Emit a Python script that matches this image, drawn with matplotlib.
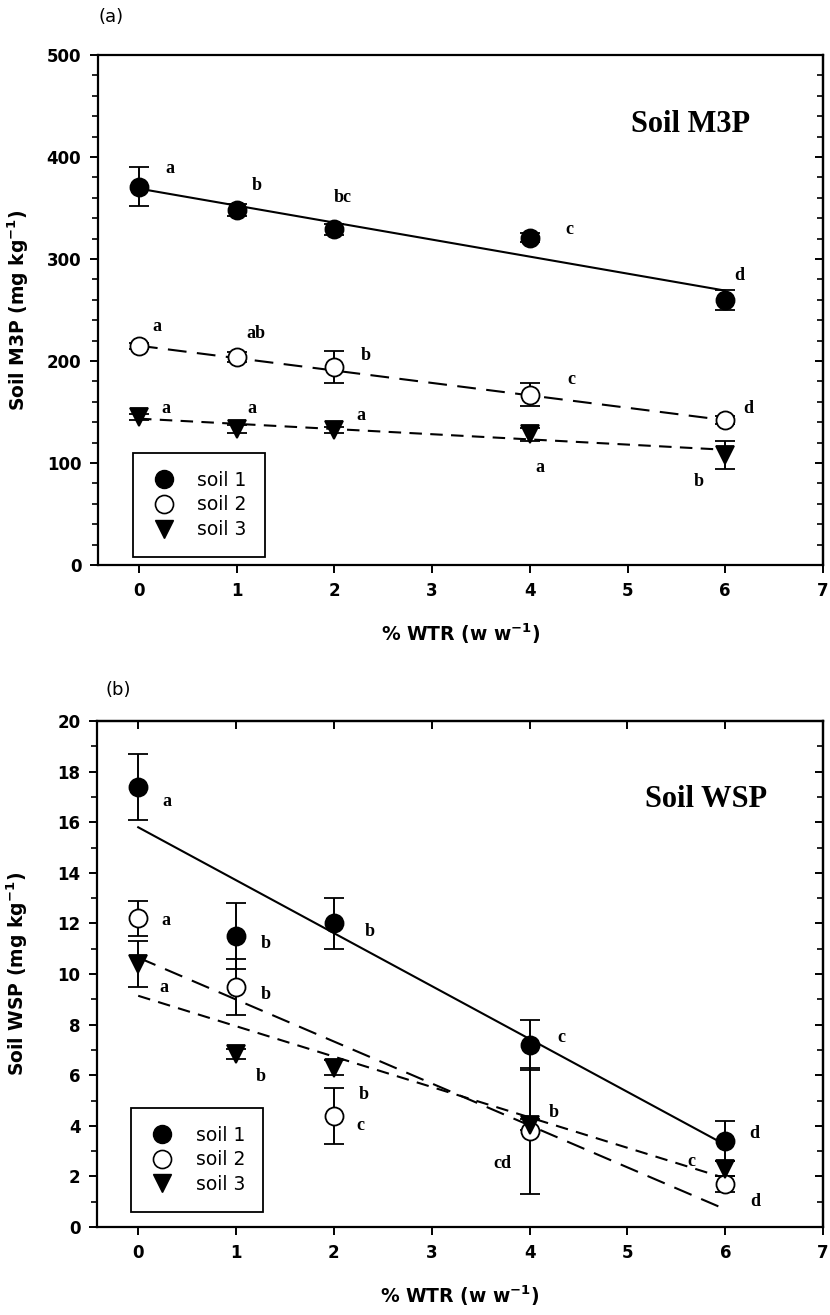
import numpy as np
import matplotlib
matplotlib.use("Agg")
import matplotlib.pyplot as plt
from matplotlib.ticker import MultipleLocator
from matplotlib.lines import Line2D

# Datos
wtr = [0, 1, 2, 4, 6]
fit_x = [0, 6]

# (a) Soil M3P
m3p_s1 = [371, 348, 329, 321, 260]
m3p_s1_err = [19, 6, 5, 4, 10]
m3p_s2 = [215, 204, 194, 167, 142]
m3p_s2_err = [3, 5, 16, 11, 4]
m3p_s3 = [145, 133, 132, 128, 108]
m3p_s3_err = [3, 4, 3, 6, 14]
m3p_fit1 = [369, 269]
m3p_fit2 = [215, 142]
m3p_fit3 = [143.5, 113]
m3p_letters1 = [("a", 0.32, 389), ("b", 1.21, 372), ("bc", 2.09, 360), ("c", 4.40, 329), ("d", 6.14, 284)]
m3p_letters2 = [("a", 0.18, 234), ("ab", 1.2, 227), ("b", 2.32, 205), ("c", 4.43, 182), ("d", 6.24, 153)]
m3p_letters3 = [("a", 0.28, 153), ("a", 1.16, 153), ("a", 2.27, 147), ("a", 4.10, 96), ("b", 5.73, 82)]

# (b) Soil WSP
wsp_s1 = [17.4, 11.5, 12.0, 7.2, 3.4]
wsp_s1_err = [1.3, 1.3, 1.0, 1.0, 0.8]
wsp_s2 = [12.2, 9.5, 4.4, 3.8, 1.7]
wsp_s2_err = [0.7, 1.1, 1.1, 2.5, 0.3]
wsp_s3 = [10.4, 6.85, 6.3, 4.05, 2.3]
wsp_s3_err = [0.9, 0.2, 0.3, 0.2, 0.3]
wsp_fit1 = [15.8, 3.25]
wsp_fit2 = [10.65, 0.7]
wsp_fit3 = [9.14, 1.93]
wsp_letters1 = [("a", 0.29, 16.8), ("b", 1.30, 11.2), ("b", 2.37, 11.7), ("c", 4.32, 7.5), ("d", 6.30, 3.7)]
wsp_letters2 = [("a", 0.28, 12.1), ("b", 1.30, 9.2), ("c", 2.27, 4.0), ("cd", 3.72, 2.5), ("d", 6.31, 1.0)]
wsp_letters3 = [("a", 0.26, 9.45), ("b", 1.25, 5.96), ("b", 2.30, 5.23), ("b", 4.25, 4.53), ("c", 5.65, 2.6)]

serif = "Liberation Serif"
sans = "DejaVu Sans"
plt.rcParams['font.family'] = sans

fig = plt.figure(figsize=(8.3, 13.15), dpi=100)
ax1 = fig.add_axes([0.118, 0.5703, 0.8735, 0.3879])
ax2 = fig.add_axes([0.117, 0.0669, 0.8747, 0.3848])


def panel(ax, series, fits, letters, titulo, tpos, ymax, ymajor, yminor, ylabel, leg_anchor, top_ticks):
    estilos = [dict(marker="o", mfc="black", dashes=None),
               dict(marker="o", mfc="white", dashes=(9, 5)),
               dict(marker="v", mfc="black", dashes=(6, 4))]
    for (y, e), f, st in zip(series, fits, estilos):
        if st["dashes"] is None:
            ax.plot(fit_x, f, color="black", lw=1.5, zorder=2)
        else:
            ax.plot(fit_x, f, color="black", lw=1.5, dashes=st["dashes"], zorder=2)
        ax.errorbar(wtr, y, yerr=e, fmt=st["marker"], mfc=st["mfc"], mec="black",
                    ms=13, mew=1.3, ecolor="black", elinewidth=1.4, capsize=7,
                    capthick=1.4, color="black", zorder=3)
    for grupo in letters:
        for txt, x, y in grupo:
            ax.text(x, y, txt, family=serif, fontweight="bold", fontsize=13,
                    ha="center", va="center")
    ax.text(tpos[0], tpos[1], titulo, family=serif, fontweight="bold", fontsize=22,
            ha="center", va="center")
    ax.set_xlim(-0.42, 7)
    ax.set_ylim(0, ymax)
    ax.set_xticks([0, 1, 2, 3, 4, 5, 6, 7])
    ax.yaxis.set_major_locator(MultipleLocator(ymajor))
    ax.yaxis.set_minor_locator(MultipleLocator(yminor))
    ax.tick_params(axis="both", which="major", labelsize=12, width=1.4, length=6, pad=6)
    ax.tick_params(axis="y", which="minor", width=1.2, length=4)
    for lab in ax.get_xticklabels() + ax.get_yticklabels():
        lab.set_fontweight("bold")
    for s in ax.spines.values():
        s.set_linewidth(1.6)
    ax.set_xlabel("% WTR (w w$^{\\mathbf{-1}}$)", fontsize=13.5, fontweight="bold", labelpad=16)
    ax.set_ylabel(ylabel, fontsize=13.5, fontweight="bold")
    ax.yaxis.set_label_coords(-0.092, 0.5)

    # marcas del lado derecho (y arriba) hacia adentro
    der = ax.secondary_yaxis("right")
    der.yaxis.set_major_locator(MultipleLocator(ymajor))
    der.yaxis.set_minor_locator(MultipleLocator(yminor))
    der.tick_params(which="major", direction="in", length=6, width=1.4, labelright=False)
    der.tick_params(which="minor", direction="in", length=4, width=1.2)
    der.spines["right"].set_linewidth(1.6)
    if top_ticks:
        arr = ax.secondary_xaxis("top")
        arr.set_xticks([0, 1, 2, 3, 4, 5, 6, 7])
        arr.tick_params(direction="in", length=6, width=1.4, labeltop=False)
        arr.spines["top"].set_linewidth(1.6)

    handles = [Line2D([], [], ls="none", marker="o", mfc="black", mec="black", ms=13),
               Line2D([], [], ls="none", marker="o", mfc="white", mec="black", ms=13, mew=1.2),
               Line2D([], [], ls="none", marker="v", mfc="black", mec="black", ms=13)]
    leg = ax.legend(handles, ["soil 1", "soil 2", "soil 3"], loc="lower left",
                    bbox_to_anchor=leg_anchor, borderaxespad=0, fancybox=False,
                    edgecolor="black", framealpha=1, fontsize=13.5, handletextpad=1.1,
                    borderpad=0.95, labelspacing=0.3, handlelength=1.4)
    leg.get_frame().set_linewidth(1.3)


panel(ax1, [(m3p_s1, m3p_s1_err), (m3p_s2, m3p_s2_err), (m3p_s3, m3p_s3_err)],
      [m3p_fit1, m3p_fit2, m3p_fit3],
      [m3p_letters1, m3p_letters2, m3p_letters3], "Soil M3P", (5.65, 432),
      500, 100, 20, "Soil M3P (mg kg$^{\\mathbf{-1}}$)", (0.048, 0.016), False)
panel(ax2, [(wsp_s1, wsp_s1_err), (wsp_s2, wsp_s2_err), (wsp_s3, wsp_s3_err)],
      [wsp_fit1, wsp_fit2, wsp_fit3],
      [wsp_letters1, wsp_letters2, wsp_letters3], "Soil WSP", (5.8, 16.9),
      20, 2, 1, "Soil WSP (mg kg$^{\\mathbf{-1}}$)", (0.047, 0.03), True)

fig.text(0.134, 0.987, "(a)", fontsize=13, ha="center", va="center")
fig.text(0.143, 0.475, "(b)", fontsize=13, ha="center", va="center")

plt.savefig("out.png", dpi=100)
